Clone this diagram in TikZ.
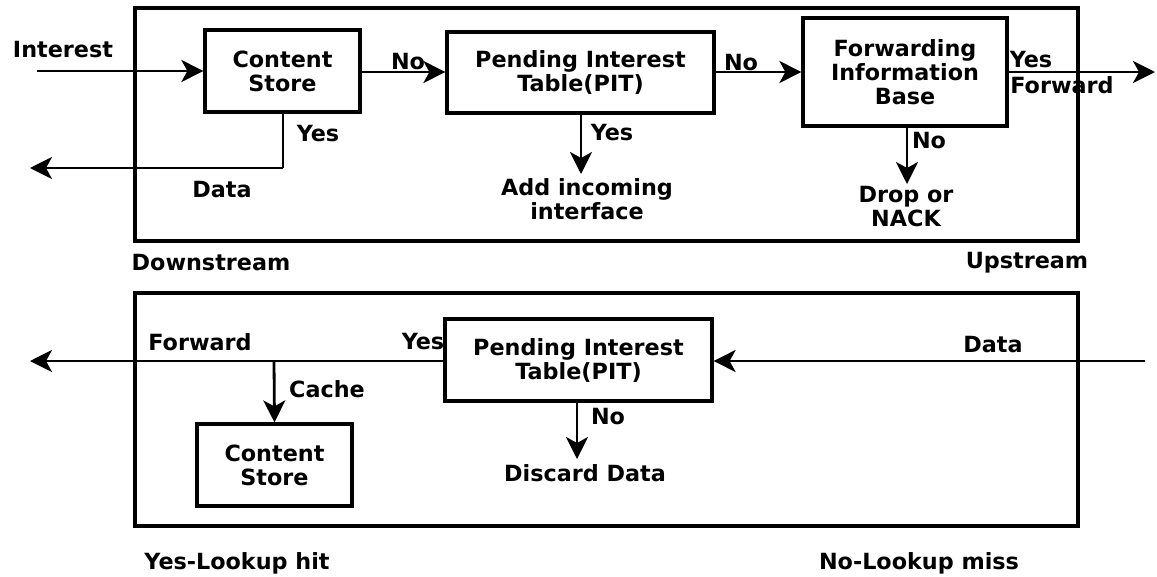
\documentclass[tikz,border=0pt]{standalone}
\usepackage{fontspec}
\setmainfont{DejaVu Sans}
\usetikzlibrary{arrows.meta}
\begin{document}
\begin{tikzpicture}[x=1pt,y=-1pt,
  font=\fontsize{22.3}{24}\selectfont\bfseries,
  frame/.style={draw,line width=3.2pt,inner sep=0pt},
  blk/.style={draw,line width=3.2pt,align=center,inner sep=0pt},
  lbl/.style={inner sep=0pt,align=center},
  arr/.style={line width=2.8pt,-{Stealth[length=22pt,width=22pt,inset=6pt]}},
  ln/.style={line width=2.8pt}]
\useasboundingbox (0,0) rectangle (1157,576);
% frames
\node[frame,minimum width=943pt,minimum height=233pt] (upper) at (606.5,124.5) {};
\node[frame,minimum width=943pt,minimum height=233pt] (lower) at (606.5,409.5) {};
% upper blocks
\node[blk,minimum width=155pt,minimum height=82pt] (cs1) at (282.5,71) {Content\\Store};
\node[blk,minimum width=267pt,minimum height=81pt] (pit1) at (580.5,72.5) {Pending Interest\\Table(PIT)};
\node[blk,minimum width=204pt,minimum height=108pt] (fib) at (905,72) {Forwarding\\Information\\Base};
% upper texts
\node[lbl] (tInterest) at (63,50) {Interest};
\node[lbl] (tYes1) at (318,134) {Yes};
\node[lbl] (tData1) at (222,190) {Data};
\node[lbl] (tNo1) at (408,62) {No};
\node[lbl] (tYes2) at (612,133) {Yes};
\node[lbl] (add) at (587,199) {Add incoming\\interface};
\node[lbl] (tNo2) at (741,63) {No};
\node[lbl] (tYes3) at (1031,60) {Yes};
\node[lbl] (tFwd1) at (1062,85) {Forward};
\node[lbl] (tNo3) at (929,141) {No};
\node[lbl] (drop) at (906,207) {Drop or\\NACK};
\node[lbl] (tDown) at (211,263) {Downstream};
\node[lbl] (tUp) at (1027,263) {Upstream};
% upper coordinates
\coordinate (inS) at (37,71);
\coordinate (csy) at (283,168);
\coordinate (dataOut) at (30,168);
\coordinate (fwdOut) at (1155,72);
% upper connectors
\draw[arr] (inS) -- (cs1.west);
\draw[ln] (cs1.south -| csy) -- (csy);
\draw[arr] (csy) -- (dataOut);
\draw[arr] (cs1.east |- 0,72) -- (pit1.west |- 0,72);
\draw[arr] (pit1.south -| 581,0) -- (581,174);
\draw[arr] (pit1.east |- 0,72) -- (fib.west |- 0,72);
\draw[arr] (fib.east |- 0,72) -- (fwdOut);
\draw[arr] (fib.south -| 907,0) -- (907,184);
% lower blocks
\node[blk,minimum width=267pt,minimum height=82pt] (pit2) at (578.5,360) {Pending Interest\\Table(PIT)};
\node[blk,minimum width=155pt,minimum height=82pt] (cs2) at (274.5,465) {Content\\Store};
% lower texts
\node[lbl] (tData2) at (993,345) {Data};
\node[lbl] (tYes4) at (423,342) {Yes};
\node[lbl] (tFwd2) at (200,342) {Forward};
\node[lbl] (tCache) at (327,389) {Cache};
\node[lbl] (tNo4) at (608,417) {No};
\node[lbl] (discard) at (585,473) {Discard Data};
\node[lbl] (tHit) at (237,563) {Yes-Lookup hit};
\node[lbl] (tMiss) at (919,563) {No-Lookup miss};
% lower coordinates
\coordinate (dataIn) at (1145,361);
\coordinate (fwdOut2) at (30,361);
\coordinate (br) at (274,361);
% lower connectors
\draw[arr] (dataIn) -- (pit2.east |- dataIn);
\draw[arr] (pit2.west |- fwdOut2) -- (fwdOut2);
\draw[arr] (br) -- (cs2.north);
\draw[arr] (pit2.south -| 577,0) -- (577,459);
\end{tikzpicture}
\end{document}
